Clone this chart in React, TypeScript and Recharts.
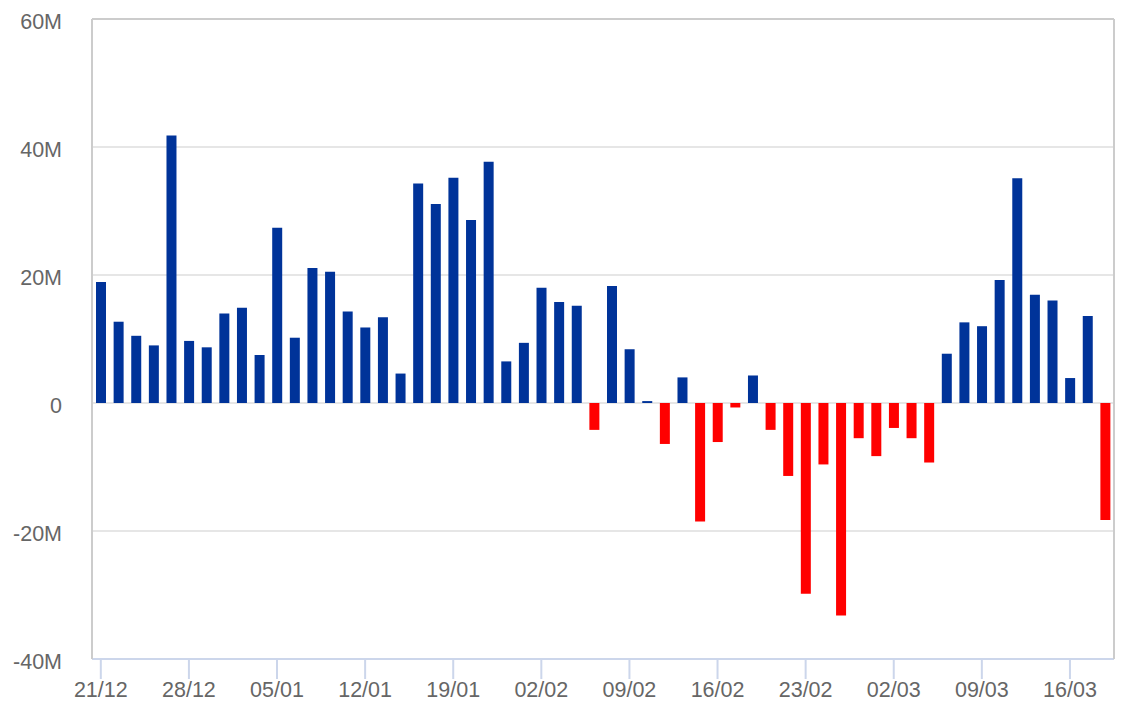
import React from "react";
import {
  BarChart,
  Bar,
  XAxis,
  YAxis,
  CartesianGrid,
  Cell,
  ReferenceLine,
} from "recharts";

// Category labels (trading days)
const dates: string[] = [
  "21/12", "22/12", "23/12", "24/12", "25/12",
  "28/12", "29/12", "30/12", "31/12", "04/01",
  "05/01", "06/01", "07/01", "08/01", "11/01",
  "12/01", "13/01", "14/01", "15/01", "18/01",
  "19/01", "20/01", "21/01", "22/01", "25/01",
  "02/02", "03/02", "04/02", "05/02", "08/02",
  "09/02", "10/02", "11/02", "12/02", "15/02",
  "16/02", "17/02", "18/02", "19/02", "22/02",
  "23/02", "24/02", "25/02", "26/02", "01/03",
  "02/03", "03/03", "04/03", "05/03", "08/03",
  "09/03", "10/03", "11/03", "12/03", "15/03",
  "16/03", "17/03", "18/03",
];

// Net flow values, in millions
const values: number[] = [
  18.9, 12.7, 10.5, 9.0, 41.8, 9.7, 8.7, 14.0, 14.9, 7.5,
  27.4, 10.2, 21.1, 20.5, 14.3, 11.8, 13.4, 4.6, 34.3, 31.1,
  35.2, 28.6, 37.7, 6.5, 9.4, 18.0, 15.8, 15.2, -4.2, 18.3,
  8.4, 0.3, -6.4, 4.0, -18.5, -6.1, -0.7, 4.3, -4.2, -11.4,
  -29.8, -9.6, -33.2, -5.5, -8.3, -3.9, -5.5, -9.3, 7.7, 12.6,
  12.0, 19.2, 35.1, 16.9, 16.0, 3.9, 13.6, -18.3,
];

const yTicks: number[] = [-40, -20, 0, 20, 40, 60];

const POS_COLOR = "#003399";
const NEG_COLOR = "#ff0000";
const FONT = "'Liberation Sans', Arial, Helvetica, sans-serif";
const FONT_SIZE = 21.5;
const TEXT_COLOR = "#666666";

const data = dates.map((d, i) => ({ date: d, value: values[i] }));

const fmtY = (v: number) => (v === 0 ? "0" : `${v}M`);

const YTick = (props: any) => {
  const { x, y, payload } = props;
  return (
    <text
      x={x}
      y={y + 10}
      textAnchor="end"
      fontFamily={FONT}
      fontSize={FONT_SIZE}
      fill={TEXT_COLOR}
    >
      {fmtY(payload.value)}
    </text>
  );
};

const XTick = (props: any) => {
  const { x, payload } = props;
  return (
    <text
      x={x}
      y={697}
      textAnchor="middle"
      fontFamily={FONT}
      fontSize={FONT_SIZE}
      fill={TEXT_COLOR}
    >
      {payload.value}
    </text>
  );
};

export default function App() {
  return (
    <div style={{ position: "absolute", left: 0, top: 0, background: "#fff" }}>
      <BarChart
        width={1140}
        height={712}
        data={data}
        margin={{ top: 19, right: 0, bottom: 0, left: 0 }}
      >
        <CartesianGrid
          yAxisId="left"
          vertical={false}
          stroke="#e6e6e6"
          strokeWidth={2}
        />
        <XAxis
          dataKey="date"
          interval={4}
          height={53}
          tickSize={20}
          tickMargin={2}
          axisLine={{ stroke: "#ccd6eb", strokeWidth: 2 }}
          tickLine={{ stroke: "#ccd6eb", strokeWidth: 2 }}
          tick={<XTick />}
        />
        <YAxis
          yAxisId="left"
          width={92}
          domain={[-40, 60]}
          ticks={yTicks}
          allowDataOverflow
          tickSize={0}
          tickMargin={30}
          tickLine={false}
          axisLine={{ stroke: "#cccccc", strokeWidth: 2 }}
          tick={<YTick />}
        />
        <YAxis
          yAxisId="right"
          orientation="right"
          width={26}
          domain={[-40, 60]}
          ticks={yTicks}
          tick={false}
          tickLine={false}
          axisLine={{ stroke: "#cccccc", strokeWidth: 2 }}
        />
        <ReferenceLine
          yAxisId="left"
          y={60}
          stroke="#cccccc"
          strokeWidth={2}
        />
        <Bar
          yAxisId="left"
          dataKey="value"
          barSize={10}
          isAnimationActive={false}
        >
          {data.map((d, i) => (
            <Cell key={i} fill={d.value >= 0 ? POS_COLOR : NEG_COLOR} />
          ))}
        </Bar>
      </BarChart>
    </div>
  );
}
